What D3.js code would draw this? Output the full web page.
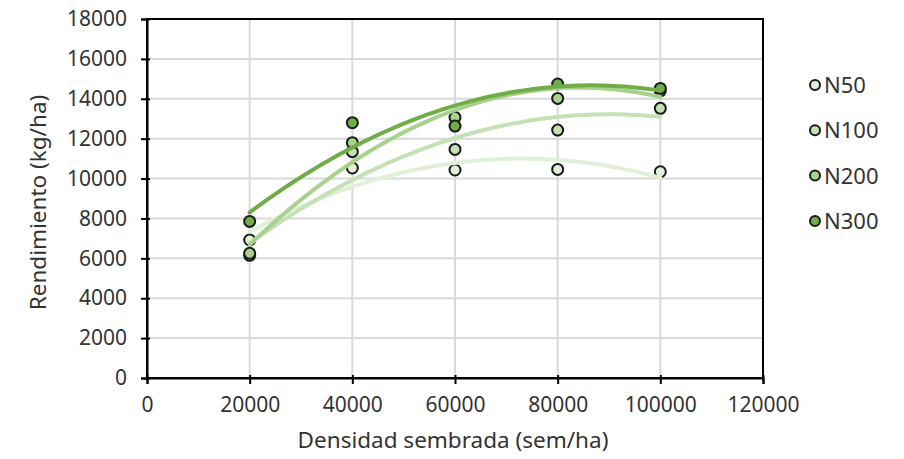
<!DOCTYPE html>
<html><head><meta charset="utf-8">
<script src="https://cdn.jsdelivr.net/npm/d3@7"></script>
<style>body{margin:0;background:#fff}text{font-family:"Noto Sans",sans-serif;fill:#333}</style>
</head><body><svg id="c" width="904" height="459"></svg>
<script>
const densities = [20000, 40000, 60000, 80000, 100000];
const seriesNames = ["N50", "N100", "N200", "N300"];
const n50 = [6920, 10530, 10430, 10460, 10340];
const n100 = [6150, 11350, 11460, 12430, 13520];
const n200 = [6250, 11800, 13070, 14020, 14400];
const n300 = [7850, 12800, 12630, 14740, 14520];
const colors = ["#e2f0d9", "#c5e0b4", "#a9d18e", "#70ad47"];
const xTicks = [0, 20000, 40000, 60000, 80000, 100000, 120000];
const yTicks = [0, 2000, 4000, 6000, 8000, 10000, 12000, 14000, 16000, 18000];

const series = [n50, n100, n200, n300].map((v, i) => ({name: seriesNames[i], values: v, color: colors[i]}));
const svg = d3.select("#c");
const x = d3.scaleLinear().domain([0, 120000]).range([147, 763]);
const y = d3.scaleLinear().domain([0, 18000]).range([378, 19]);

// gridlines
svg.append("g").selectAll("line").data(yTicks.filter(t => t > 0 && t < 18000)).join("line")
  .attr("x1", x(0)).attr("x2", x(120000)).attr("y1", d => y(d)).attr("y2", d => y(d))
  .attr("stroke", "#d9d9d9").attr("stroke-width", 2);
svg.append("g").selectAll("line").data(xTicks.filter(t => t > 0 && t < 120000)).join("line")
  .attr("y1", y(0)).attr("y2", y(18000)).attr("x1", d => x(d)).attr("x2", d => x(d))
  .attr("stroke", "#d9d9d9").attr("stroke-width", 2);

// frame
svg.append("rect").attr("x", x(0)).attr("y", y(18000)).attr("width", x(120000) - x(0)).attr("height", y(0) - y(18000))
  .attr("fill", "none").attr("stroke", "#000").attr("stroke-width", 2);

// axes
const xAxis = svg.append("g").attr("transform", `translate(0,${y(0)})`)
  .call(d3.axisBottom(x).tickValues(xTicks).tickFormat(d3.format("d")).tickSize(6).tickPadding(13));
const yAxis = svg.append("g").attr("transform", `translate(${x(0)},0)`)
  .call(d3.axisLeft(y).tickValues(yTicks).tickFormat(d3.format("d")).tickSize(6).tickPadding(14));
[xAxis, yAxis].forEach(a => {
  a.select(".domain").attr("stroke", "#000").attr("stroke-width", 2);
  a.selectAll(".tick line").attr("stroke", "#000").attr("stroke-width", 2);
  a.selectAll("text").style("font-size", "21px").attr("fill", "#333").style("font-family", '"Noto Sans",sans-serif');
});
xAxis.selectAll(".tick line").attr("y1", -3);
yAxis.selectAll(".tick line").attr("x1", 3);

// markers
series.forEach(s => {
  svg.append("g").selectAll("circle").data(s.values).join("circle")
    .attr("cx", (d, i) => x(densities[i])).attr("cy", d => y(d)).attr("r", 5.5)
    .attr("fill", s.color).attr("stroke", "#1a1a1a").attr("stroke-width", 2);
});

// quadratic trendlines (least squares fit of each series)
function quadFit(xs, ys) {
  const xm = xs.map(v => v / 10000);
  let S = [[0,0,0],[0,0,0],[0,0,0]], b = [0,0,0];
  xm.forEach((xv, i) => {
    const p = [1, xv, xv * xv];
    for (let r = 0; r < 3; r++) { b[r] += p[r] * ys[i]; for (let c = 0; c < 3; c++) S[r][c] += p[r] * p[c]; }
  });
  const A = S.map((row, i) => [...row, b[i]]);
  for (let i = 0; i < 3; i++) {
    for (let k = i + 1; k < 3; k++) { const f = A[k][i] / A[i][i]; for (let j = i; j < 4; j++) A[k][j] -= f * A[i][j]; }
  }
  const c = [0,0,0];
  for (let i = 2; i >= 0; i--) { let s = A[i][3]; for (let j = i + 1; j < 3; j++) s -= A[i][j] * c[j]; c[i] = s / A[i][i]; }
  return xv => { const t = xv / 10000; return c[0] + c[1] * t + c[2] * t * t; };
}
const line = d3.line().x(d => x(d[0])).y(d => y(d[1])).curve(d3.curveLinear);
series.forEach(s => {
  const f = quadFit(densities, s.values);
  const pts = d3.range(densities[0], densities[densities.length - 1] + 1, 1000).map(v => [v, f(v)]);
  svg.append("path").datum(pts).attr("d", line).attr("fill", "none")
    .attr("stroke", s.color).attr("stroke-width", 4).attr("stroke-linecap", "round");
});

// axis titles
svg.append("text").attr("x", (x(0) + x(120000)) / 2 - 2).attr("y", 448).attr("text-anchor", "middle")
  .style("font-size", "22.5px").text("Densidad sembrada (sem/ha)");
svg.append("text").attr("transform", `translate(46,${(y(0) + y(18000)) / 2 + 4}) rotate(-90)`).attr("text-anchor", "middle")
  .style("font-size", "22.5px").text("Rendimiento (kg/ha)");

// legend
const lg = svg.append("g").selectAll("g").data(series).join("g")
  .attr("transform", (d, i) => `translate(815,${85 + i * 45.3})`);
lg.append("circle").attr("r", 5).attr("fill", d => d.color).attr("stroke", "#1a1a1a").attr("stroke-width", 2);
lg.append("text").attr("x", 9).attr("y", 8).style("font-size", "22px").text(d => d.name);
</script></body></html>
